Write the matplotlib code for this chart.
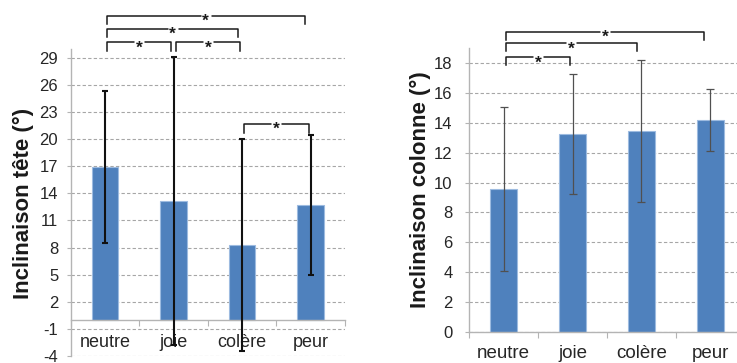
import numpy as np
import matplotlib
matplotlib.use("Agg")
import matplotlib.pyplot as plt
from matplotlib.ticker import FixedLocator
from matplotlib.transforms import offset_copy

plt.rcParams["font.family"] = ["Liberation Sans", "DejaVu Sans"]
plt.rcParams["axes.unicode_minus"] = False

categories = ["neutre", "joie", "colère", "peur"]

# left panel: head tilt
tete_mean = [16.9, 13.15, 8.3, 12.7]
tete_err = [8.45, 15.9, 11.7, 7.7]
tete_ticks = list(range(-4, 30, 3))
tete_pairs = [(0, 1), (1, 2), (0, 2), (0, 3), (2, 3)]
tete_heights = [30.7, 30.7, 32.2, 33.65, 21.65]

# right panel: spine tilt
colonne_mean = [9.57, 13.26, 13.46, 14.19]
colonne_err = [5.5, 4.0, 4.75, 2.07]
colonne_ticks = list(range(0, 19, 2))
colonne_pairs = [(0, 1), (0, 2), (0, 3)]
colonne_heights = [18.36, 19.29, 20.07]

bar_color = "#4f81bd"
grid_color = "#a6a6a6"
spine_color = "#b4b4b4"
text_color = "#262626"


def bracket(ax, i, j, y, leg):
    x1 = i + 0.03
    x2 = j - 0.03 * (j - i)
    ax.plot([x1, x1, x2, x2], [y - leg, y, y, y - leg], color="#1a1a1a",
            lw=1.1, clip_on=False, zorder=5)
    # white patch so the line breaks around the star
    ax.plot([(x1 + x2) / 2], [y], marker="s", ms=7.5, mfc="white", mec="none",
            clip_on=False, zorder=6)
    tr = offset_copy(ax.transData, fig=ax.figure, y=-7.2, units="points")
    ax.text((x1 + x2) / 2, y, "*", ha="center", va="baseline", fontsize=12.5,
            fontweight="bold", color="#1a1a1a", zorder=7, clip_on=False,
            transform=tr)


def style_axes(ax, ticks, ylim, tick_pad, label_pad, label_size):
    x = np.arange(len(categories))
    ax.set_xlim(-0.5, len(categories) - 0.5)
    ax.set_ylim(*ylim)
    ax.set_yticks(ticks)
    ax.set_xticks(x)
    ax.set_xticklabels(categories, fontsize=label_size, color=text_color)
    ax.xaxis.set_minor_locator(FixedLocator(np.arange(-0.5, len(categories), 1.0)))
    ax.tick_params(axis="x", which="major", length=0, pad=label_pad)
    ax.tick_params(axis="x", which="minor", length=4, width=0.8,
                   color=spine_color, direction="out")
    ax.tick_params(axis="y", length=3, width=0.8, color=spine_color,
                   pad=tick_pad, labelsize=12, labelcolor=text_color)
    ax.grid(axis="y", color=grid_color, ls=(0, (3, 2)), lw=0.8)
    ax.set_axisbelow(True)
    for s in ["top", "right"]:
        ax.spines[s].set_visible(False)
    for s in ["left", "bottom"]:
        ax.spines[s].set_color(spine_color)
        ax.spines[s].set_linewidth(1.0)


fig = plt.figure(figsize=(7.37, 3.63), dpi=100)
x = np.arange(len(categories))

# left chart
ax1 = fig.add_axes([0.0959, 0.0193, 0.3722, 0.8466])
ax1.spines["bottom"].set_position(("data", 0))
ax1.bar(x, tete_mean, width=0.39, color=bar_color, edgecolor="#9dbbe0",
        linewidth=0.8, zorder=2)
ax1.errorbar(x, tete_mean, yerr=tete_err, fmt="none", ecolor="#111111",
             elinewidth=1.5, capsize=2.5, capthick=1.5, zorder=3)
style_axes(ax1, tete_ticks, (-4, 30), 6, 10, 13)
for (i, j), h in zip(tete_pairs, tete_heights):
    bracket(ax1, i, j, h, 0.95)

# right chart
ax2 = fig.add_axes([0.6368, 0.0846, 0.3734, 0.784])
ax2.bar(x, colonne_mean, width=0.39, color=bar_color, edgecolor="#9dbbe0",
        linewidth=0.8, zorder=2)
ax2.errorbar(x, colonne_mean, yerr=colonne_err, fmt="none", ecolor="#505050",
             elinewidth=0.9, capsize=3, capthick=0.9, zorder=3)
style_axes(ax2, colonne_ticks, (0, 19), 9, 9, 13.5)
for (i, j), h in zip(colonne_pairs, colonne_heights):
    bracket(ax2, i, j, h, 0.53)

fig.text(23 / 737, 1 - 203.5 / 363, "Inclinaison tête (°)", rotation=90,
         ha="center", va="center", fontsize=16, fontweight="bold", color="#1a1a1a")
fig.text(420 / 737, 1 - 190 / 363, "Inclinaison colonne (°)", rotation=90,
         ha="center", va="center", fontsize=16, fontweight="bold", color="#1a1a1a")

fig.savefig("out.png", dpi=100)
